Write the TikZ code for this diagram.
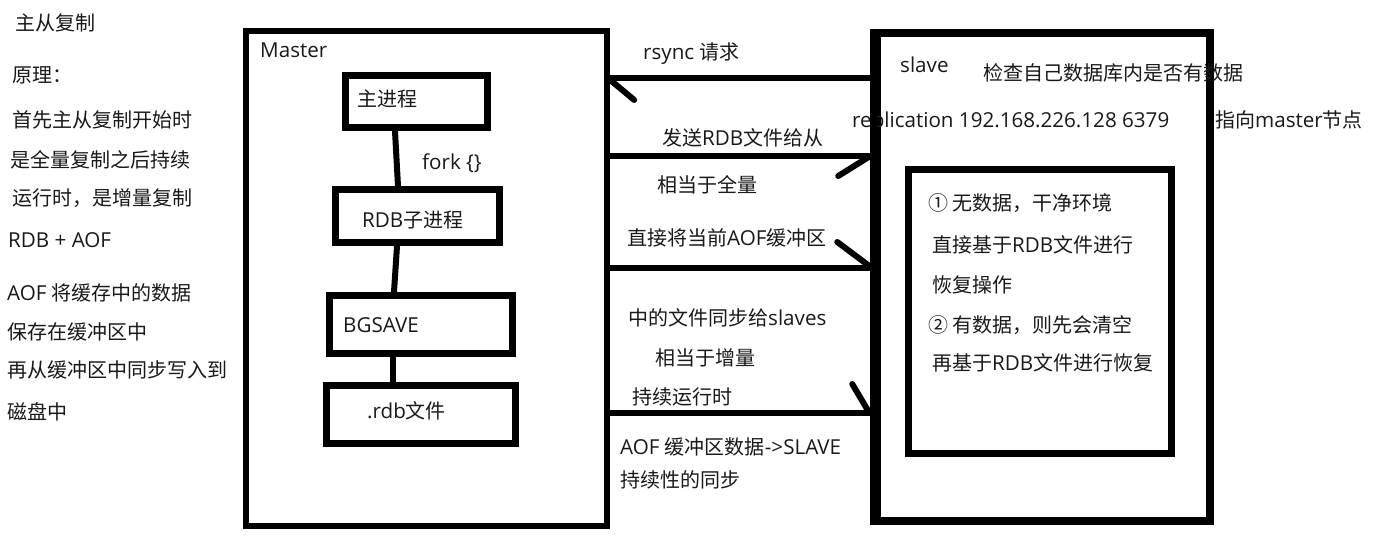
\documentclass[tikz,border=0pt]{standalone}
\usepackage{fontspec}
\setmainfont{Noto Sans CJK SC}
\newfontfamily\cjkfont{Noto Sans CJK SC}
\newfontfamily\latinfont{Open Sans}[Scale=1.03]
\newXeTeXintercharclass\cjkcls
\count255="2460
\loop\XeTeXcharclass\count255=\cjkcls\relax\ifnum\count255<"24FF \advance\count255 by 1 \repeat
\count255="3000
\loop\XeTeXcharclass\count255=\cjkcls\relax\ifnum\count255<"9FFF \advance\count255 by 1 \repeat
\count255="FF00
\loop\XeTeXcharclass\count255=\cjkcls\relax\ifnum\count255<"FFEF \advance\count255 by 1 \repeat
\XeTeXinterchartoks 0 \cjkcls = {\cjkfont}
\XeTeXinterchartoks 4095 \cjkcls = {\cjkfont}
\XeTeXinterchartoks \cjkcls 0 = {\latinfont}
\XeTeXinterchartoks 4095 0 = {\latinfont}
\XeTeXinterchartokenstate=1
\begin{document}
\begin{tikzpicture}[x=1pt,y=-1pt,
  box/.style={draw=black, line width=7pt, inner sep=0pt, rectangle},
  txt/.style={anchor=base west, inner sep=0pt, font=\fontsize{20}{24}\selectfont, text=black!90},
  conn/.style={line width=6pt},
  barb/.style={line width=6pt, line cap=round}]
\fill[white] (0,0) rectangle (1387,541);
\useasboundingbox (0,0) rectangle (1387,541);

% left notes
\node[txt] (t1) at (15,30) {主从复制};
\node[txt] (t2) at (12,82) {原理：};
\node[txt] (t3) at (12,127) {首先主从复制开始时};
\node[txt] (t4) at (10,167) {是全量复制之后持续};
\node[txt] (t5) at (12,205) {运行时，是增量复制};
\node[txt] (t6) at (8,247) {RDB + AOF};
\node[txt] (t7) at (7,300) {AOF 将缓存中的数据};
\node[txt] (t8) at (7,339) {保存在缓冲区中};
\node[txt] (t9) at (7,377) {再从缓冲区中同步写入到};
\node[txt] (t10) at (7,419) {磁盘中};

% master
\node[box, line width=6.5pt, minimum width=361pt, minimum height=495pt] (master) at (426.5,278.5) {};
\node[txt] (mlabel) at (260,57) {Master};
\node[box, minimum width=142pt, minimum height=52pt] (main) at (416.5,101.5) {};
\node[txt] (maint) at (357,106) {主进程};
\node[box, minimum width=164pt, minimum height=53pt] (rdb) at (417.5,216) {};
\node[txt] (rdbt) at (362,227) {RDB子进程};
\node[box, minimum width=183pt, minimum height=58pt] (bgsave) at (421,324.5) {};
\node[txt] (bgsavet) at (343,332) {BGSAVE};
\node[box, minimum width=189pt, minimum height=58pt] (rdbfile) at (421,414.5) {};
\node[txt] (rdbfilet) at (367,418) {.rdb文件};
\node[txt] (fork) at (422,169) {fork \{\}};

\draw[conn] (main.south -| 395,0) -- (rdb.north -| 398,0);
\draw[conn] (rdb.south -| 397,0) -- (bgsave.north -| 394,0);
\draw[conn] (bgsave.south -| 393,0) -- (rdbfile.north -| 393,0);

% slave
\node[box, line width=7.5pt, minimum width=333pt, minimum height=488pt] (slave) at (1043.5,277) {};
\node[box, minimum width=263pt, minimum height=284pt] (inner) at (1040,311.5) {};
\node[txt] (slavet) at (900,72) {slave};
\node[txt] (check) at (983,80) {检查自己数据库内是否有数据};
\node[txt] (repl) at (852,127) {replication 192.168.226.128 6379};
\node[txt] (point) at (1215,127) {指向master节点};
\node[txt] (i1) at (928,210) {① 无数据，干净环境};
\node[txt] (i2) at (932,252) {直接基于RDB文件进行};
\node[txt] (i3) at (932,292) {恢复操作};
\node[txt] (i4) at (928,332) {② 有数据，则先会清空};
\node[txt] (i5) at (932,370) {再基于RDB文件进行恢复};
% redraw slave left border over text
\draw[line width=7.5pt] (slave.north west) -- (slave.south west);

% middle labels
\node[txt] (m1) at (643,59) {rsync 请求};
\node[txt] (m2) at (662,145) {发送RDB文件给从};
\node[txt] (m3) at (657,192) {相当于全量};
\node[txt] (m4) at (627,245) {直接将当前AOF缓冲区};
\node[txt] (m5) at (628,325) {中的文件同步给slaves};
\node[txt] (m6) at (655,365) {相当于增量};
\node[txt] (m7) at (632,404) {持续运行时};
\node[txt] (m8) at (620,454) {AOF 缓冲区数据->SLAVE};
\node[txt] (m9) at (620,487) {持续性的同步};

% connectors
\draw[conn] (slave.west |- 0,78) -- (master.east |- 0,78);
\draw[barb] (master.east |- 0,80) -- ++(24,20);
\draw[conn] (master.east |- 0,156) -- (slave.west |- 0,156);
\draw[barb] (slave.west |- 0,156) ++(-3,0) -- ++(-32,20);
\draw[conn] (master.east |- 0,268) -- (slave.west |- 0,268);
\draw[barb] (slave.west |- 0,266) ++(-4,0) -- ++(-32,-24);
\draw[conn] (master.east |- 0,413) -- (slave.west |- 0,413);
\draw[barb] (slave.west |- 0,411) ++(-5,0) -- ++(-16,-27);
\end{tikzpicture}
\end{document}
